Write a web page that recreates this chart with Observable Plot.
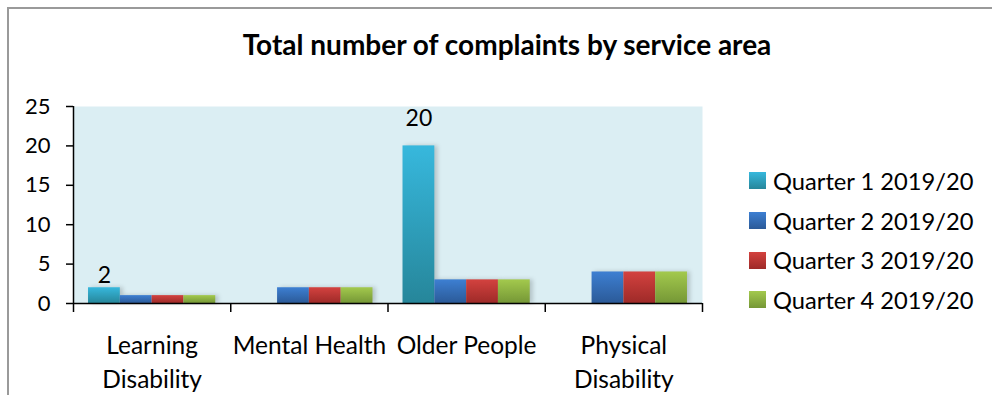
<!DOCTYPE html>
<html><head><meta charset="utf-8">
<script src="https://cdn.jsdelivr.net/npm/d3@7"></script>
<script src="https://cdn.jsdelivr.net/npm/@observablehq/plot@0.6"></script>
<style>
body{margin:0;background:#fff;font-family:Lato,sans-serif;color:#000;}
#wrap{position:relative;width:992px;height:395px;overflow:hidden;background:#fff;}
#frame{position:absolute;left:7px;top:7px;width:1000px;height:400px;border-left:2px solid #9a9a9a;border-top:2px solid #9a9a9a;}
#title{position:absolute;left:0;top:26px;width:1014px;text-align:center;font-weight:bold;font-size:28px;line-height:36px;}
#chart{position:absolute;left:0;top:95px;}
#legend{position:absolute;left:749px;top:161px;}
.row{display:flex;align-items:center;height:39.7px;font-size:23.7px;white-space:nowrap;}
.sw{width:17px;height:17px;margin-right:7px;flex:none;}
#chart g[aria-label="rect"] rect{filter:drop-shadow(3px 0px 2px rgba(0,0,0,0.18));}
</style>
</head><body>
<svg width="0" height="0" style="position:absolute">
<defs>
<linearGradient id="g1" x1="0" y1="0" x2="0" y2="1"><stop offset="0" stop-color="#37B8DD"/><stop offset="1" stop-color="#26869A"/></linearGradient>
<linearGradient id="g2" x1="0" y1="0" x2="0" y2="1"><stop offset="0" stop-color="#3D7FD2"/><stop offset="1" stop-color="#2B5A98"/></linearGradient>
<linearGradient id="g3" x1="0" y1="0" x2="0" y2="1"><stop offset="0" stop-color="#D3423F"/><stop offset="1" stop-color="#9E2A28"/></linearGradient>
<linearGradient id="g4" x1="0" y1="0" x2="0" y2="1"><stop offset="0" stop-color="#A3C94D"/><stop offset="1" stop-color="#759736"/></linearGradient>
</defs>
</svg>
<div id="wrap">
  <div id="frame"></div>
  <div id="title">Total number of complaints by service area</div>
  <div id="chart"></div>
  <div id="legend"></div>
</div>
<script>
const categories = ["Learning Disability", "Mental Health", "Older People", "Physical Disability"];
const categoryLabels = ["Learning\nDisability", "Mental Health", "Older People", "Physical\nDisability"];
const quarters = ["Quarter 1 2019/20", "Quarter 2 2019/20", "Quarter 3 2019/20", "Quarter 4 2019/20"];
const q1 = [2, 0, 20, 0];
const q2 = [1, 2, 3, 4];
const q3 = [1, 2, 3, 4];
const q4 = [1, 2, 3, 4];
const yTicks = [0, 5, 10, 15, 20, 25];

const series = [q1, q2, q3, q4];
const fills = ["url(#g1)", "url(#g2)", "url(#g3)", "url(#g4)"];
const swatch = [["#37B8DD", "#26869A"], ["#3D7FD2", "#2B5A98"], ["#D3423F", "#9E2A28"], ["#A3C94D", "#759736"]];
const pad = 0.0955;
const bw = (1 - 2 * pad) / quarters.length;

const data = categories.flatMap((c, i) => quarters.map((q, j) => ({c, i, j, q, v: series[j][i]})));

const chart = Plot.plot({
  width: 992,
  height: 300,
  marginLeft: 73,
  marginRight: 290,
  marginTop: 11,
  marginBottom: 92,
  x: {domain: [0, categories.length], label: null},
  y: {domain: [0, 25], label: null},
  style: {fontFamily: "Lato, sans-serif", color: "#000", background: "transparent", overflow: "visible"},
  marks: [
    Plot.frame({fill: "#DBEEF3", stroke: "none"}),
    Plot.rectY(data, {x1: d => d.i + pad + d.j * bw, x2: d => d.i + pad + (d.j + 1) * bw, y: "v", fill: d => fills[d.j]}),
    Plot.ruleY([0], {stroke: "#000", strokeWidth: 1.5}),
    Plot.ruleX([0], {y1: 0, y2: 25, stroke: "#000", strokeWidth: 1.5}),
    Plot.axisY({ticks: yTicks, tickSize: 7, tickPadding: 16, fontSize: 22, tickFormat: d => d, strokeWidth: 1.5}),
    Plot.axisX({ticks: d3.range(categories.length + 1), tickSize: 9, tickFormat: () => "", strokeWidth: 1.5}),
    Plot.text(categoryLabels, {x: (d, i) => i + 0.5, frameAnchor: "bottom", lineAnchor: "top", dy: 26, lineHeight: 1.4, fontSize: 24.5}),
    Plot.text(data.filter(d => d.j === 0 && d.i === 0), {x: d => d.i + pad + (d.j + 0.5) * bw, y: "v", text: d => String(d.v), dy: -12, fontSize: 23}),
    Plot.text(data.filter(d => d.j === 0 && d.i === 2), {x: d => d.i + pad + (d.j + 0.5) * bw, y: "v", text: d => String(d.v), dy: -27, fontSize: 23})
  ]
});
document.getElementById("chart").appendChild(chart);

const legend = document.getElementById("legend");
quarters.forEach((q, j) => {
  const row = document.createElement("div");
  row.className = "row";
  const sw = document.createElement("div");
  sw.className = "sw";
  sw.style.background = `linear-gradient(to bottom, ${swatch[j][0]}, ${swatch[j][1]})`;
  const t = document.createElement("span");
  t.textContent = q;
  row.appendChild(sw);
  row.appendChild(t);
  legend.appendChild(row);
});
</script>
</body></html>
